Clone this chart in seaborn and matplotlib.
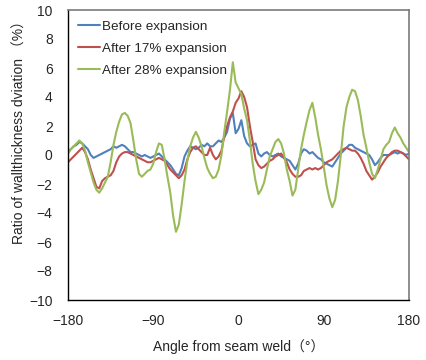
import numpy as np
import pandas as pd
import matplotlib
matplotlib.use("Agg")
import matplotlib.pyplot as plt
import seaborn as sns

sns.set_style("white")
plt.rcParams['font.family'] = ['Liberation Sans', 'Noto Sans CJK JP', 'DejaVu Sans']

angles = list(range(-180, 181, 3))

before = [0.2, 0.4, 0.6, 0.7, 0.9, 0.8, 0.6, 0.4, 0.0, -0.2, -0.1,
          0.0, 0.1, 0.2, 0.3, 0.4, 0.6, 0.5, 0.6, 0.7, 0.6,
          0.4, 0.2, 0.2, 0.1, 0.0, -0.1, 0.0, -0.1, -0.2, -0.1,
          0.0, 0.1, -0.1, -0.3, -0.5, -0.7, -1.0, -1.3, -1.4, -0.9,
          -0.1, 0.3, 0.6, 0.5, 0.4, 0.5, 0.7, 0.6, 0.8, 0.6,
          0.6, 0.8, 1.0, 0.9, 1.2, 1.6, 2.5, 2.9, 1.5, 1.8,
          2.4, 1.3, 0.8, 0.6, 0.7, 0.8, 0.1, -0.1, 0.1, 0.2,
          0.0, -0.1, 0.0, 0.1, -0.1, -0.2, -0.3, -0.4, -0.7, -1.0,
          -0.6, 0.1, 0.4, 0.3, 0.1, 0.2, 0.0, -0.2, -0.3, -0.5,
          -0.6, -0.7, -0.8, -0.5, -0.2, 0.1, 0.3, 0.5, 0.7, 0.7,
          0.5, 0.4, 0.3, 0.2, 0.1, 0.0, -0.3, -0.7, -0.5, -0.2,
          0.0, 0.0, 0.0, 0.1, 0.2, 0.1, 0.2, 0.1, 0.0, 0.1]

after17 = [-0.5, -0.3, -0.1, 0.1, 0.3, 0.5, 0.2, -0.3, -1.0, -1.6, -2.2,
           -2.3, -1.8, -1.6, -1.5, -1.4, -1.1, -0.5, -0.1, 0.1, 0.2,
           0.2, 0.1, 0.0, -0.1, -0.2, -0.3, -0.4, -0.5, -0.5, -0.4,
           -0.3, -0.2, -0.3, -0.4, -0.7, -1.0, -1.2, -1.4, -1.6, -1.4,
           -1.0, -0.3, 0.2, 0.5, 0.6, 0.4, 0.2, 0.0, 0.0, 0.5,
           0.0, -0.3, -0.1, 0.3, 1.3, 2.0, 2.6, 3.0, 3.6, 3.9,
           4.4, 4.0, 3.3, 2.0, 0.9, -0.3, -0.7, -0.9, -0.8, -0.6,
           -0.4, -0.3, -0.1, 0.0, 0.1, -0.2, -0.5, -1.0, -1.3, -1.5,
           -1.5, -1.4, -1.1, -1.0, -0.9, -1.0, -0.9, -1.0, -0.9, -0.7,
           -0.5, -0.4, -0.3, -0.1, 0.1, 0.3, 0.4, 0.5, 0.4, 0.3,
           0.3, 0.1, -0.2, -0.6, -1.1, -1.4, -1.7, -1.5, -1.2, -0.8,
           -0.5, -0.2, 0.0, 0.2, 0.3, 0.3, 0.2, 0.1, -0.1, -0.3]

after28 = [0.1, 0.4, 0.6, 0.8, 1.0, 0.8, 0.3, -0.5, -1.2, -1.9, -2.4,
           -2.6, -2.3, -1.9, -1.5, -0.5, 0.7, 1.6, 2.3, 2.8, 2.9,
           2.7, 2.2, 1.0, -0.3, -1.3, -1.5, -1.3, -1.1, -1.0, -0.6,
           0.2, 0.8, 0.7, -0.3, -1.5, -2.6, -4.2, -5.3, -4.8, -3.4,
           -1.8, -0.4, 0.6, 1.2, 1.6, 1.2, 0.6, -0.2, -0.9, -1.3,
           -1.6, -1.5, -1.0, 0.0, 1.6, 3.0, 4.5, 6.4, 5.0, 4.6,
           4.2, 3.2, 2.4, 1.0, -0.6, -1.8, -2.7, -2.4, -1.9, -1.0,
           -0.1, 0.4, 0.9, 1.1, 0.8, 0.1, -1.0, -1.8, -2.8, -2.4,
           -1.0, 0.4, 1.4, 2.3, 3.1, 3.6, 2.6, 1.4, 0.4, -0.8,
           -2.1, -3.0, -3.6, -3.1, -1.8, 0.0, 2.0, 3.3, 4.0, 4.5,
           4.4, 3.8, 2.7, 1.4, 0.5, -0.5, -1.3, -1.6, -1.0, -0.3,
           0.4, 0.7, 0.9, 1.5, 1.9, 1.5, 1.2, 0.8, 0.5, 0.2]

series_names = ["Before expansion", "After 17% expansion", "After 28% expansion"]
colors = ["#4F81BD", "#C0504D", "#9BBB59"]
x_ticks = [-180, -90, 0, 90, 180]
y_ticks = list(range(-10, 11, 2))

df = pd.DataFrame({
    "angle": angles * 3,
    "value": before + after17 + after28,
    "series": np.repeat(series_names, len(angles)),
})

fig = plt.figure(figsize=(4.27, 3.6), dpi=100)
ax = fig.add_axes([68 / 427, 60 / 360, 341 / 427, 290 / 360])
sns.lineplot(data=df, x="angle", y="value", hue="series", hue_order=series_names,
             palette=colors, linewidth=1.5, estimator=None, sort=False, ax=ax)

ax.set_xlim(-180, 180)
ax.set_ylim(-10, 10)
ax.set_xticks(x_ticks)
ax.set_yticks(y_ticks)
ax.tick_params(axis='both', direction='in', length=4, width=0.8, labelsize=10, color='black')
ax.tick_params(axis='x', pad=10)
ax.tick_params(axis='y', pad=11)

for s in ['left', 'bottom']:
    ax.spines[s].set_color('black')
    ax.spines[s].set_linewidth(1.0)
for s in ['top', 'right']:
    ax.spines[s].set_color('#7a7a7a')
    ax.spines[s].set_linewidth(1.2)

ax.set_xlabel("Angle from seam weld（°）", fontsize=10)
ax.set_ylabel("Ratio of wallthickness dviation （%）", fontsize=10)
ax.xaxis.set_label_coords(0.5, -0.135)
ax.yaxis.set_label_coords(-0.12, 0.59)

ax.legend(loc='upper left', bbox_to_anchor=(0.0, 1.0), frameon=False, fontsize=9.7,
          handlelength=1.6, handletextpad=0.15, labelspacing=0.72,
          borderaxespad=0.3, borderpad=0.45)

fig.savefig("out.png", dpi=100)
